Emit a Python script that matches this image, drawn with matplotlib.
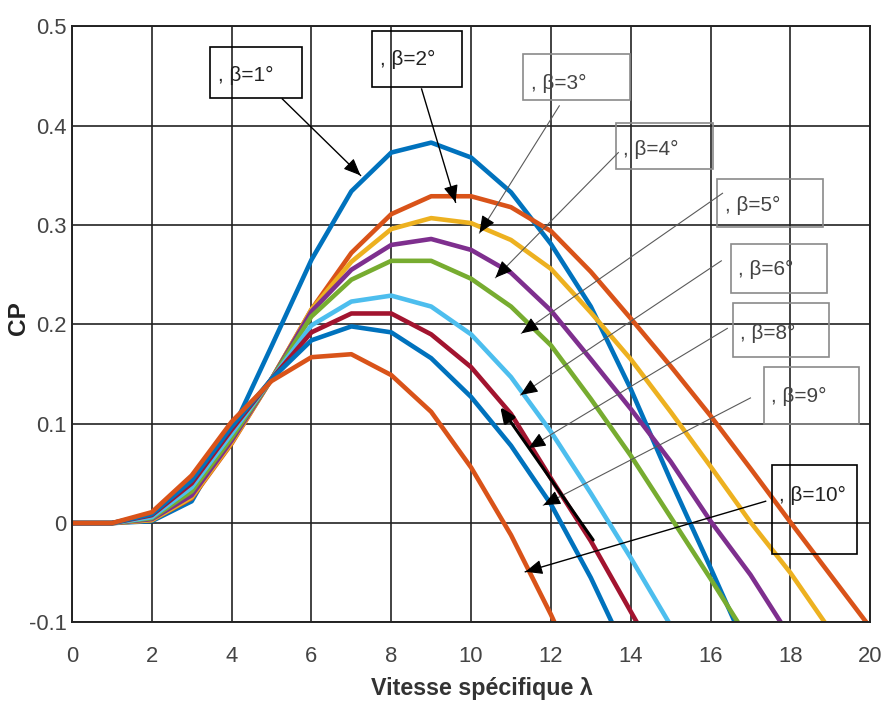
import numpy as np
import matplotlib
matplotlib.use('Agg')
import matplotlib.pyplot as plt
from matplotlib import font_manager
from matplotlib.patches import Rectangle

# Cp values read at lambda = 0, 1, 2, ... (each series stops once below -0.1)
cp_b1 = [0, 0, 0.002, 0.022, 0.092, 0.178, 0.265, 0.334, 0.373, 0.383, 0.368, 0.333, 0.281, 0.218, 0.135, 0.043, -0.045, -0.135]
cp_b2 = [0, 0, 0.003, 0.025, 0.080, 0.145, 0.215, 0.272, 0.311, 0.329, 0.329, 0.318, 0.294, 0.253, 0.206, 0.158, 0.108, 0.055, 0.001, -0.052, -0.105]
cp_b3 = [0, 0, 0.003, 0.026, 0.081, 0.145, 0.215, 0.263, 0.296, 0.307, 0.302, 0.285, 0.256, 0.212, 0.165, 0.112, 0.057, 0.001, -0.050, -0.108]
cp_b4 = [0, 0, 0.004, 0.028, 0.083, 0.145, 0.213, 0.255, 0.280, 0.286, 0.275, 0.252, 0.214, 0.165, 0.115, 0.062, 0.002, -0.052, -0.115]
cp_b5 = [0, 0, 0.005, 0.032, 0.086, 0.145, 0.208, 0.245, 0.264, 0.264, 0.246, 0.218, 0.179, 0.125, 0.068, 0.006, -0.056, -0.120]
cp_b6 = [0, 0, 0.006, 0.036, 0.090, 0.145, 0.199, 0.223, 0.229, 0.218, 0.190, 0.147, 0.092, 0.030, -0.035, -0.103]
cp_b8 = [0, 0, 0.008, 0.040, 0.094, 0.145, 0.192, 0.211, 0.211, 0.190, 0.157, 0.110, 0.045, -0.018, -0.089, -0.160]
cp_b9 = [0, 0, 0.009, 0.043, 0.097, 0.145, 0.184, 0.198, 0.192, 0.166, 0.127, 0.078, 0.019, -0.055, -0.140]
cp_b10 = [0, 0, 0.011, 0.048, 0.102, 0.143, 0.167, 0.170, 0.149, 0.112, 0.056, -0.012, -0.092, -0.180]

series = [cp_b1, cp_b2, cp_b3, cp_b4, cp_b5, cp_b6, cp_b8, cp_b9, cp_b10]
labels = [', β=1°', ', β=2°', ', β=3°', ', β=4°', ', β=5°', ', β=6°', ', β=8°', ', β=9°', ', β=10°']
colors = ['#0072BD', '#D95319', '#EDB120', '#7E2F8E', '#77AC30', '#4DBEEE', '#A2142F', '#0072BD', '#D95319']

x_ticks = [0, 2, 4, 6, 8, 10, 12, 14, 16, 18, 20]
y_ticks = [-0.1, 0, 0.1, 0.2, 0.3, 0.4, 0.5]
y_tick_labels = ['-0.1', '0', '0.1', '0.2', '0.3', '0.4', '0.5']

# label boxes (x0, x1, y_bottom, y_top), text anchor, arrow start -> arrow end
boxes = [(3.47, 5.77, 0.428, 0.479), (7.53, 9.78, 0.439, 0.495), (11.31, 13.97, 0.426, 0.472),
         (13.62, 16.05, 0.356, 0.403), (16.17, 18.83, 0.298, 0.346), (16.50, 18.93, 0.232, 0.281),
         (16.55, 18.96, 0.167, 0.222), (17.35, 19.71, 0.100, 0.157), (17.55, 19.68, -0.031, 0.058)]
text_pos = [(3.65, 0.451), (7.72, 0.467), (11.50, 0.443), (13.80, 0.376), (16.35, 0.320),
            (16.68, 0.255), (16.73, 0.191), (17.52, 0.127), (17.72, 0.028)]
arrow_from = [(5.27, 0.427), (8.76, 0.437), (12.21, 0.420), (13.69, 0.373), (16.30, 0.332),
              (16.27, 0.264), (16.42, 0.196), (17.00, 0.126), (17.38, 0.022)]
arrow_to = [(7.23, 0.350), (9.61, 0.323), (10.21, 0.292), (10.61, 0.247), (11.26, 0.191),
            (11.24, 0.129), (11.44, 0.0755), (11.81, 0.018), (11.36, -0.049)]
dark = [True, True, False, False, False, False, False, False, True]

names = {f.name for f in font_manager.fontManager.ttflist}
if 'Liberation Sans Narrow' in names:
    fam, k = 'Liberation Sans Narrow', 1.0
else:
    fam, k = 'Liberation Sans', 0.88
plt.rcParams['font.family'] = [fam, 'DejaVu Sans']

fig = plt.figure(figsize=(8.83, 7.13), dpi=100)
ax = fig.add_axes([0.0815, 0.127, 0.904, 0.836])

for cp, c in zip(series, colors):
    lam = np.arange(len(cp))
    ax.plot(lam, cp, color=c, lw=3.3, solid_joinstyle='round')

for i in range(len(labels)):
    x0, x1, yb, yt = boxes[i]
    ec = 'black' if dark[i] else '#8a8a8a'
    ax.add_patch(Rectangle((x0, yb), x1 - x0, yt - yb, fill=False, ec=ec, lw=1.2, zorder=5))
    ax.text(text_pos[i][0], text_pos[i][1], labels[i], fontsize=17 * k,
            color='#222222' if dark[i] else '#444444', va='center', ha='left', zorder=6)
    (sx, sy), (ex, ey) = arrow_from[i], arrow_to[i]
    lc = 'black' if dark[i] else '#5a5a5a'
    ax.plot([sx, ex], [sy, ey], color=lc, lw=1.0 if dark[i] else 0.8, zorder=6)
    hx, hy = ex - 0.04 * (ex - sx), ey - 0.04 * (ey - sy)
    ax.annotate('', xy=(ex, ey), xytext=(hx, hy),
                arrowprops=dict(arrowstyle='-|>,head_length=0.75,head_width=0.32',
                                color='black', lw=0.8, shrinkA=0, shrinkB=0,
                                mutation_scale=14), zorder=7)

# black pointer drawn along the beta=8 curve
ax.annotate('', xy=(10.73, 0.117), xytext=(13.06, -0.017),
            arrowprops=dict(arrowstyle='-|>,head_length=0.75,head_width=0.32',
                            color='black', lw=2.2, shrinkA=0, shrinkB=0,
                            mutation_scale=12), zorder=7)

ax.set_xlim(0, 20)
ax.set_ylim(-0.1, 0.5)
ax.set_xticks(x_ticks)
ax.set_yticks(y_ticks)
ax.set_yticklabels(y_tick_labels)
ax.grid(True, color='#222222', lw=1.2)
ax.set_axisbelow(True)
ax.tick_params(length=0, labelsize=18 * k, labelcolor='#444444')
ax.tick_params(axis='x', pad=17)
ax.tick_params(axis='y', pad=4)
for s in ax.spines.values():
    s.set_color('#222222')
    s.set_linewidth(1.4)

ax.set_xlabel('Vitesse spécifique λ', fontsize=19 * k, fontweight='bold', color='#333333')
ax.xaxis.set_label_coords(0.513, -0.092)
ax.set_ylabel('CP', fontsize=20 * k, fontweight='bold', color='#222222')
ax.yaxis.set_label_coords(-0.052, 0.51)

fig.savefig('out.png', dpi=100)
